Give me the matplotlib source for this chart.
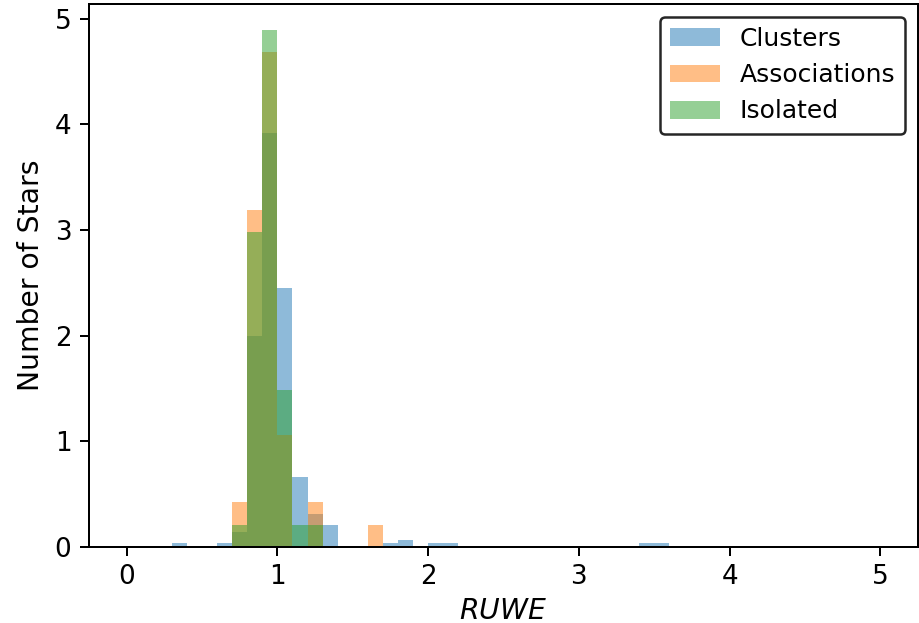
import numpy as np
import matplotlib
matplotlib.use('Agg')
import matplotlib.pyplot as plt

plt.rcParams['font.size'] = 10
plt.rcParams['xtick.labelsize'] = 10.5
plt.rcParams['ytick.labelsize'] = 10.5
plt.rcParams['axes.labelsize'] = 11.3

# RUWE histogram bins: 50 bins of width 0.1 between 0 and 5
bin_edges = np.linspace(0, 5, 51)

# left edge of each occupied bin and the number of stars in it
clusters_bins   = [0.3, 0.6, 0.7, 0.8, 0.9, 1.0, 1.1, 1.2, 1.3, 1.7, 1.8, 2.0, 2.1, 3.4, 3.5]
clusters_counts = [1,   1,   4,   57,  112, 70,  19,  9,   6,   1,   2,   1,   1,   1,   1]

assoc_bins   = [0.7, 0.8, 0.9, 1.0, 1.2, 1.6]
assoc_counts = [2,   15,  22,  5,   2,   1]

isol_bins   = [0.7, 0.8, 0.9, 1.0, 1.1, 1.2]
isol_counts = [1,   14,  23,  7,   1,   1]

labels = ['Clusters', 'Associations', 'Isolated']
colors = ['tab:blue', 'tab:orange', 'tab:green']

fig = plt.figure(figsize=(920 / 180, 623 / 180), dpi=180)
ax = fig.add_axes([89 / 920, 1 - 547 / 623, (918 - 89) / 920, (547 - 4) / 623])

groups = [(clusters_bins, clusters_counts),
          (assoc_bins, assoc_counts),
          (isol_bins, isol_counts)]
for (lefts, counts), col, lab in zip(groups, colors, labels):
    centres = np.array(lefts) + 0.05
    ax.hist(centres, bins=bin_edges, weights=counts, density=True,
            color=col, alpha=0.5, label=lab)

ax.set_xlabel('$RUWE$', labelpad=2.5)
ax.set_ylabel('Number of Stars')
ax.set_xticks([0, 1, 2, 3, 4, 5])
ax.set_yticks([0, 1, 2, 3, 4, 5])

leg = ax.legend(loc='upper right', fontsize=10)
leg.get_frame().set_edgecolor('0.15')
leg.get_frame().set_alpha(1)

fig.savefig('out.png', dpi=180)
